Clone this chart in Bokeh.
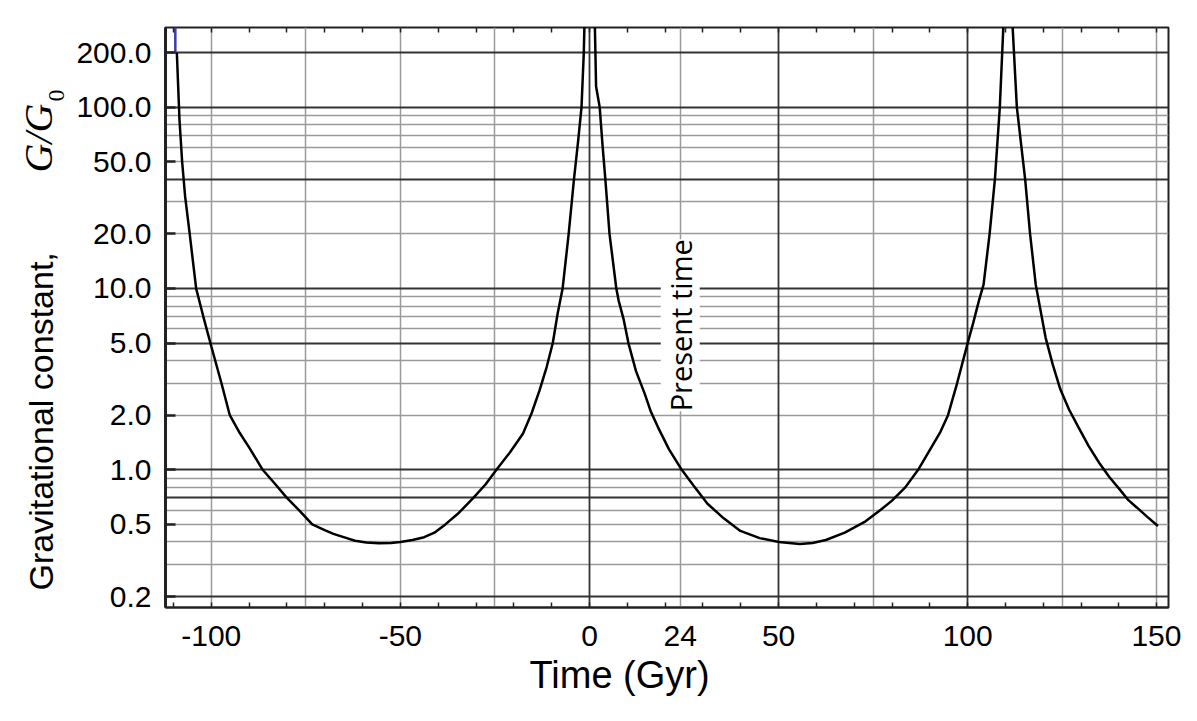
import math
from bokeh.plotting import figure
from bokeh.layouts import row
from bokeh.models import FixedTicker, LinearAxis, Grid, Label, PrintfTickFormatter, Range1d, Title
from bokeh.core.properties import value
from bokeh.embed import file_html
from bokeh.resources import INLINE

# Curve: time (Gyr) and G/G0
time_gyr = [-109.1, -108.4, -107.7, -106.9, -105.7, -104.0, -102.1, -100.0, -97.3, -95.1,
            -92.5, -90.0, -86.4, -83.0, -80.0, -76.5, -73.3, -70.0, -67.7, -65.0,
            -62.0, -59.0, -55.7, -52.5, -50.0, -46.8, -43.7, -41.0, -38.1, -34.5,
            -30.7, -27.5, -24.6, -21.0, -17.6, -15.3, -13.2, -11.3, -9.7, -8.4,
            -7.1, -5.5, -4.1, -3.0, -2.1, -1.5, -1.3,
            1.4, 1.75, 2.7, 3.5, 4.2, 5.3, 7.1, 7.7, 9.0, 10.3,
            12.3, 14.6, 16.2, 18.1, 21.0, 24.4, 27.5, 31.2, 35.5, 39.9,
            45.0, 50.1, 55.6, 59.0, 62.5, 67.5, 73.0, 76.5, 80.0, 83.5,
            86.9, 90.4, 92.8, 94.8, 97.2, 100.0, 101.5, 103.0, 104.2, 105.8,
            107.2, 108.5, 109.5,
            111.8, 113.0, 115.2, 116.5, 118.0, 120.6, 122.5, 124.5, 126.8, 129.2,
            132.0, 134.8, 137.5, 140.4, 142.5, 144.7, 147.5, 150.3]
g_ratio = [200, 85, 50, 32, 20, 10, 7.0, 4.8, 3.0, 2.0,
           1.6, 1.33, 1.0, 0.83, 0.70, 0.59, 0.50, 0.465, 0.443, 0.425,
           0.406, 0.397, 0.393, 0.395, 0.40, 0.41, 0.425, 0.45, 0.50, 0.58,
           0.70, 0.83, 1.0, 1.25, 1.58, 2.05, 2.74, 3.7, 5.0, 7.3,
           10, 20, 40, 65, 100, 200, 300,
           300, 130, 100, 60, 40, 20, 10, 8.6, 6.8, 5.0,
           3.5, 2.63, 2.1, 1.72, 1.3, 1.0, 0.82, 0.65, 0.54, 0.46,
           0.42, 0.40, 0.39, 0.395, 0.41, 0.45, 0.52, 0.59, 0.676, 0.80,
           1.0, 1.33, 1.62, 2.0, 3.0, 5.0, 6.5, 8.6, 10.5, 20,
           40, 100, 300,
           300, 100, 40, 20, 10.5, 5.36, 3.8, 2.78, 2.15, 1.73,
           1.35, 1.09, 0.91, 0.77, 0.68, 0.62, 0.55, 0.49]

# small blue mark at the top-left
artifact_t = [-109.5]
artifact_g = [200, 300]

x_tick_values = [-100, -50, 0, 24, 50, 100, 150]
x_minor_values = list(range(-110, 151, 10))
y_tick_values = [0.2, 0.5, 1, 2, 5, 10, 20, 50, 100, 200]
x_grid_dark = [0, 50, 100]
x_grid_light = [-100, -75, -50, -25, 24, 75, 125, 150]
y_grid_dark = [0.2, 0.7, 1, 5, 10, 40, 100, 200]
y_grid_light = [0.3, 0.4, 0.5, 0.6, 0.8, 0.9, 2, 3, 4, 6, 7, 8, 9, 20, 30, 50, 60, 70, 80, 90]

present_time = 24
present_label_g = 2.1

FONT = "Liberation Sans"
H = 705
LEFT_W = 68
FRAME_TOP = 27
FRAME_BOTTOM = 607

# ---- main plot ----
p = figure(width=1181 - LEFT_W, height=H,
           x_range=Range1d(-112.1, 153.1), y_range=Range1d(0.174, 275),
           y_axis_type="log", output_backend="svg", toolbar_location=None,
           min_border_left=165 - LEFT_W, min_border_right=13, min_border_top=FRAME_TOP,
           min_border_bottom=H - FRAME_BOTTOM)
p.background_fill_color = "white"
p.border_fill_color = "white"
p.outline_line_color = "#222222"
p.outline_line_width = 2

# grids: light first, dark on top
p.xgrid.ticker = FixedTicker(ticks=x_grid_light)
p.xgrid.grid_line_color = "#9a9a9a"
p.xgrid.grid_line_width = 1.5
p.ygrid.ticker = FixedTicker(ticks=y_grid_light)
p.ygrid.grid_line_color = "#9a9a9a"
p.ygrid.grid_line_width = 1.5
p.add_layout(Grid(dimension=0, ticker=FixedTicker(ticks=x_grid_dark),
                  grid_line_color="#333333", grid_line_width=1.8))
p.add_layout(Grid(dimension=1, ticker=FixedTicker(ticks=y_grid_dark),
                  grid_line_color="#333333", grid_line_width=1.8))

# x axis
xa = p.xaxis[0]
xa.ticker = FixedTicker(ticks=x_tick_values, minor_ticks=x_minor_values)
xa.formatter = PrintfTickFormatter(format="%d")
xa.major_tick_line_color = None
xa.minor_tick_in = 5
xa.minor_tick_out = 0
xa.minor_tick_line_color = "#222222"
xa.minor_tick_line_width = 1.5
xa.axis_line_color = "#222222"
xa.axis_line_width = 2
xa.major_label_text_font = FONT
xa.major_label_text_font_size = "30px"
xa.major_label_text_color = "black"
xa.major_label_standoff = 12

top = LinearAxis(ticker=FixedTicker(ticks=[], minor_ticks=x_minor_values),
                 major_label_text_font_size="0px", major_tick_line_color=None,
                 axis_line_color=None, minor_tick_in=5, minor_tick_out=0,
                 minor_tick_line_color="#222222", minor_tick_line_width=1.5)
p.add_layout(top, "above")

# y axis
ya = p.yaxis[0]
ya.ticker = FixedTicker(ticks=y_tick_values, minor_ticks=[])
ya.formatter = PrintfTickFormatter(format="%.1f")
ya.major_tick_in = 10
ya.major_tick_out = 0
ya.major_tick_line_width = 2.5
ya.major_tick_line_color = "#222222"
ya.minor_tick_line_color = None
ya.axis_line_color = "#222222"
ya.axis_line_width = 3
ya.major_label_text_font = FONT
ya.major_label_text_font_size = "30px"
ya.major_label_text_color = "black"
ya.major_label_standoff = 14

p.line(time_gyr, g_ratio, line_color="black", line_width=2.5)
p.segment(x0=artifact_t, y0=artifact_g[:1], x1=artifact_t, y1=artifact_g[1:],
          line_color="#3a3aa8", line_width=2.5)

p.add_layout(Label(x=present_time, y=present_label_g, text="Present time", angle=math.pi / 2,
                   text_align="left", text_baseline="middle", text_font="Open Sans",
                   text_font_size="29px", text_color="black",
                   background_fill_color="white"))

p.add_layout(Title(text="Time (Gyr)", align="left", offset=364, standoff=7,
                   text_font=FONT, text_font_size="38px", text_font_style="normal",
                   text_color="black"), "below")

# ---- left strip holding the y-axis title (its frame is aligned with the main frame) ----
pl = figure(width=LEFT_W, height=H, x_range=Range1d(0, LEFT_W),
            y_range=Range1d(H - FRAME_BOTTOM, H - FRAME_TOP),
            output_backend="svg", toolbar_location=None,
            x_axis_location=None, y_axis_location=None, min_border=0)
pl.grid.visible = False
pl.outline_line_color = None
pl.background_fill_color = "white"
pl.border_fill_color = "white"
pl.text(x=[40], y=[H - 590], text=["Gravitational constant,"], angle=math.pi / 2,
        text_align="left", text_baseline="middle", text_font=value(FONT),
        text_font_size=value("34px"), text_color="black")
pl.text(x=[38], y=[H - 172], text=["G/G"], angle=math.pi / 2,
        text_align="left", text_baseline="middle", text_font=value("Liberation Serif"),
        text_font_style="italic", text_font_size=value("40px"), text_color="black")
pl.text(x=[56], y=[H - 101], text=["0"], angle=math.pi / 2,
        text_align="left", text_baseline="middle", text_font=value("Liberation Serif"),
        text_font_size=value("24px"), text_color="black")

layout = row(pl, p)
open("out.html", "w").write(file_html(layout, INLINE))
